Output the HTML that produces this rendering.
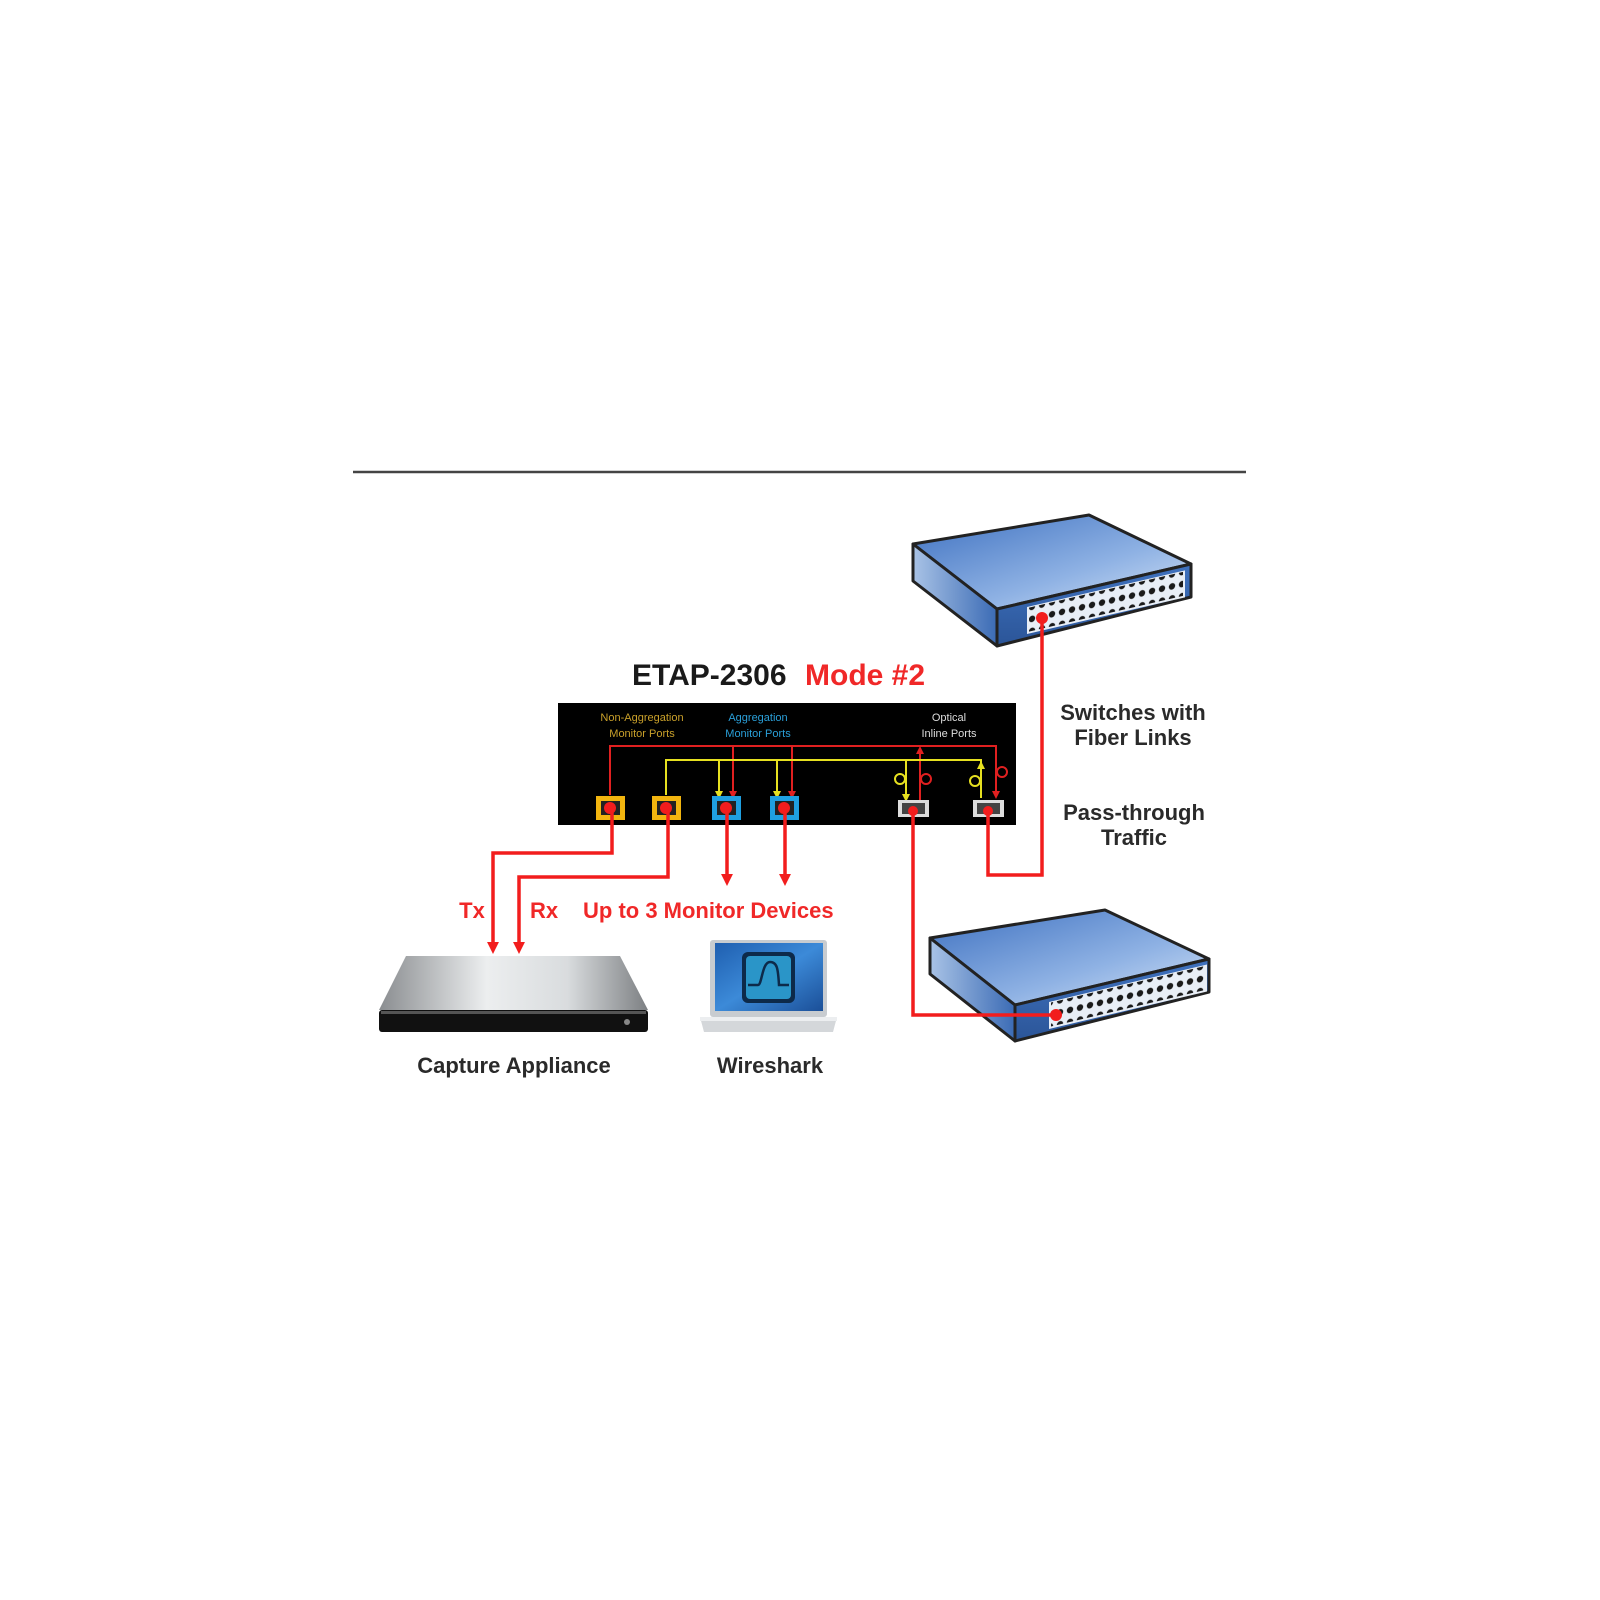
<!DOCTYPE html>
<html><head><meta charset="utf-8"><style>
html,body{margin:0;padding:0;background:#fff;width:1600px;height:1600px;overflow:hidden}
svg{display:block}
text{font-family:"Liberation Sans",sans-serif;font-weight:bold}
</style></head><body>
<svg width="1600" height="1600" viewBox="0 0 1600 1600" xmlns="http://www.w3.org/2000/svg">
<defs>
<linearGradient id="top" x1="0" y1="0" x2="1" y2="1"><stop offset="0" stop-color="#3d70c0"/><stop offset="0.6" stop-color="#8fb2e4"/><stop offset="1" stop-color="#d6e4f6"/></linearGradient>
<linearGradient id="side" x1="0" y1="0" x2="1" y2="0"><stop offset="0" stop-color="#a9c3e6"/><stop offset="1" stop-color="#3b6bb5"/></linearGradient>
<linearGradient id="front" x1="0" y1="0" x2="0" y2="1"><stop offset="0" stop-color="#3f72bf"/><stop offset="1" stop-color="#2b5598"/></linearGradient>
<linearGradient id="app" x1="0" y1="0" x2="1" y2="0"><stop offset="0" stop-color="#8a8d90"/><stop offset="0.4" stop-color="#eceeef"/><stop offset="0.7" stop-color="#d9dcde"/><stop offset="1" stop-color="#7d8083"/></linearGradient>
<linearGradient id="scr" x1="0" y1="0" x2="1" y2="1"><stop offset="0" stop-color="#1f5fb0"/><stop offset="0.5" stop-color="#3c8ad8"/><stop offset="1" stop-color="#1b4f98"/></linearGradient>
<pattern id="dots" width="10" height="12" patternUnits="userSpaceOnUse"><circle cx="5" cy="6" r="3.2" fill="#1a1a1a"/></pattern>
<marker id="ar" viewBox="0 0 6 6" markerWidth="3.4" markerHeight="3.4" refX="3" refY="3" orient="auto" markerUnits="strokeWidth"><path d="M0,0 L6,3 L0,6 z" fill="#f21d1d"/></marker>
<marker id="ary" viewBox="0 0 6 6" markerWidth="4" markerHeight="4" refX="3" refY="3" orient="auto" markerUnits="strokeWidth"><path d="M0,0 L6,3 L0,6 z" fill="#e6e020"/></marker>
<marker id="arr" viewBox="0 0 6 6" markerWidth="4" markerHeight="4" refX="3" refY="3" orient="auto" markerUnits="strokeWidth"><path d="M0,0 L6,3 L0,6 z" fill="#e02020"/></marker>
</defs>

<line x1="353" y1="472" x2="1246" y2="472" stroke="#444" stroke-width="2.5"/>

<!-- switch 1 -->
<polygon points="913,544 1089,515 1191,564 997,609" fill="url(#top)" stroke="#222" stroke-width="3" stroke-linejoin="round"/>
<polygon points="913,544 997,609 997,646 913,581" fill="url(#side)" stroke="#222" stroke-width="3" stroke-linejoin="round"/>
<polygon points="997,609 1191,564 1191,597 997,646" fill="url(#front)" stroke="#222" stroke-width="3" stroke-linejoin="round"/>
<g transform="matrix(1,-0.232,0,1,997,609)">
<rect x="30" y="5" width="158" height="27" fill="#e8eef6"/>
<rect x="32" y="6" width="154" height="24" fill="url(#dots)"/>
</g>
<!-- switch 2 -->
<polygon points="930,938 1105,910 1209,959 1015,1005" fill="url(#top)" stroke="#222" stroke-width="3" stroke-linejoin="round"/>
<polygon points="930,938 1015,1005 1015,1041 930,974" fill="url(#side)" stroke="#222" stroke-width="3" stroke-linejoin="round"/>
<polygon points="1015,1005 1209,959 1209,992 1015,1041" fill="url(#front)" stroke="#222" stroke-width="3" stroke-linejoin="round"/>
<g transform="matrix(1,-0.237,0,1,1015,1005)">
<rect x="34" y="5" width="158" height="27" fill="#e8eef6"/>
<rect x="36" y="6" width="154" height="24" fill="url(#dots)"/>
</g>

<!-- title -->
<text x="632" y="685" font-size="30" fill="#1a1a1a">ETAP-2306</text>
<text x="805" y="685" font-size="30" fill="#f02828">Mode #2</text>

<!-- box -->
<rect x="558" y="703" width="458" height="122" fill="#000"/>
<g font-size="11" text-anchor="middle">
<text x="642" y="721" fill="#c9a02a" style="font-weight:normal">Non-Aggregation</text>
<text x="642" y="737" fill="#c9a02a" style="font-weight:normal">Monitor Ports</text>
<text x="758" y="721" fill="#2a9fd8" style="font-weight:normal">Aggregation</text>
<text x="758" y="737" fill="#2a9fd8" style="font-weight:normal">Monitor Ports</text>
<text x="949" y="721" fill="#ddd" style="font-weight:normal">Optical</text>
<text x="949" y="737" fill="#ddd" style="font-weight:normal">Inline Ports</text>
</g>
<!-- internal lines -->
<g fill="none" stroke-width="2">
<polyline points="610,795 610,746 996,746 996,795" stroke="#e02020" marker-end="url(#arr)"/>
<line x1="733" y1="746" x2="733" y2="795" stroke="#e02020" marker-end="url(#arr)"/>
<line x1="792" y1="746" x2="792" y2="795" stroke="#e02020" marker-end="url(#arr)"/>
<line x1="920" y1="800" x2="920" y2="750" stroke="#e02020" marker-end="url(#arr)"/>
<circle cx="926" cy="779" r="5" stroke="#e02020"/>
<circle cx="1002" cy="772" r="5" stroke="#e02020"/>
<polyline points="666,795 666,760 906,760 906,798" stroke="#e6e020" marker-end="url(#ary)"/>
<line x1="719" y1="760" x2="719" y2="795" stroke="#e6e020" marker-end="url(#ary)"/>
<line x1="777" y1="760" x2="777" y2="795" stroke="#e6e020" marker-end="url(#ary)"/>
<polyline points="981,798 981,760 906,760" stroke="#e6e020"/>
<line x1="981" y1="798" x2="981" y2="765" stroke="#e6e020" marker-end="url(#ary)"/>
<circle cx="900" cy="779" r="5" stroke="#e6e020"/>
<circle cx="975" cy="781" r="5" stroke="#e6e020"/>
</g>
<!-- ports -->
<g>
<rect x="596" y="796" width="29" height="24" fill="#f2b50f"/><rect x="601" y="801" width="19" height="14" fill="#222"/><circle cx="610" cy="808" r="6" fill="#f21d1d"/>
<rect x="652" y="796" width="29" height="24" fill="#f2b50f"/><rect x="657" y="801" width="19" height="14" fill="#222"/><circle cx="666" cy="808" r="6" fill="#f21d1d"/>
<rect x="712" y="796" width="29" height="24" fill="#1f9fe0"/><rect x="717" y="801" width="19" height="14" fill="#222"/><circle cx="726" cy="808" r="6" fill="#f21d1d"/>
<rect x="770" y="796" width="29" height="24" fill="#1f9fe0"/><rect x="775" y="801" width="19" height="14" fill="#222"/><circle cx="784" cy="808" r="6" fill="#f21d1d"/>
<rect x="898" y="800" width="31" height="17" fill="#ddd"/><rect x="902" y="803" width="23" height="11" fill="#444"/><circle cx="913" cy="811" r="5" fill="#f21d1d"/>
<rect x="973" y="800" width="31" height="17" fill="#ddd"/><rect x="977" y="803" width="23" height="11" fill="#444"/><circle cx="988" cy="811" r="5" fill="#f21d1d"/>
</g>

<!-- external red lines -->
<g fill="none" stroke="#f21d1d" stroke-width="3.5">
<polyline points="612,812 612,853 493,853 493,948" marker-end="url(#ar)"/>
<polyline points="668,812 668,877 519,877 519,948" marker-end="url(#ar)"/>
<line x1="727" y1="812" x2="727" y2="880" marker-end="url(#ar)"/>
<line x1="785" y1="812" x2="785" y2="880" marker-end="url(#ar)"/>
<polyline points="913,812 913,1015 1056,1015"/>
<polyline points="988,812 988,875 1042,875 1042,617"/>
</g>
<circle cx="1056" cy="1015" r="6" fill="#f21d1d"/>
<circle cx="1042" cy="618" r="6" fill="#f21d1d"/>

<!-- labels -->
<g font-size="22" fill="#f02828">
<text x="472" y="918" text-anchor="middle">Tx</text>
<text x="544" y="918" text-anchor="middle">Rx</text>
<text x="583" y="918">Up to 3 Monitor Devices</text>
</g>
<g font-size="22" fill="#2a2a2a" text-anchor="middle">
<text x="1133" y="720">Switches with</text>
<text x="1133" y="745">Fiber Links</text>
<text x="1134" y="820">Pass-through</text>
<text x="1134" y="845">Traffic</text>
<text x="514" y="1073">Capture Appliance</text>
<text x="770" y="1073">Wireshark</text>
</g>

<!-- capture appliance -->
<polygon points="406,956 620,956 648,1010 379,1010" fill="url(#app)"/>
<rect x="379" y="1010" width="269" height="22" rx="3" fill="#111"/>
<rect x="381" y="1011" width="265" height="3" fill="#555"/>
<circle cx="627" cy="1022" r="3" fill="#888"/>

<!-- laptop -->
<rect x="710" y="940" width="117" height="77" rx="3" fill="#c8ccd0"/>
<rect x="715" y="943" width="108" height="68" fill="url(#scr)"/>
<rect x="742" y="952" width="53" height="51" rx="6" fill="#0d2a4a"/>
<rect x="746" y="956" width="45" height="43" rx="4" fill="#2a95c8"/>
<path d="M748,985 H758 C762,985 762,962 770,962 C777,962 778,968 779,985 H789" stroke="#0d2a4a" stroke-width="2.5" fill="none"/>
<path d="M700,1017 H837 L833,1032 H704 Z" fill="#d4d7da"/>
<rect x="700" y="1017" width="137" height="4" fill="#eceef0"/>
</svg>
</body></html>
